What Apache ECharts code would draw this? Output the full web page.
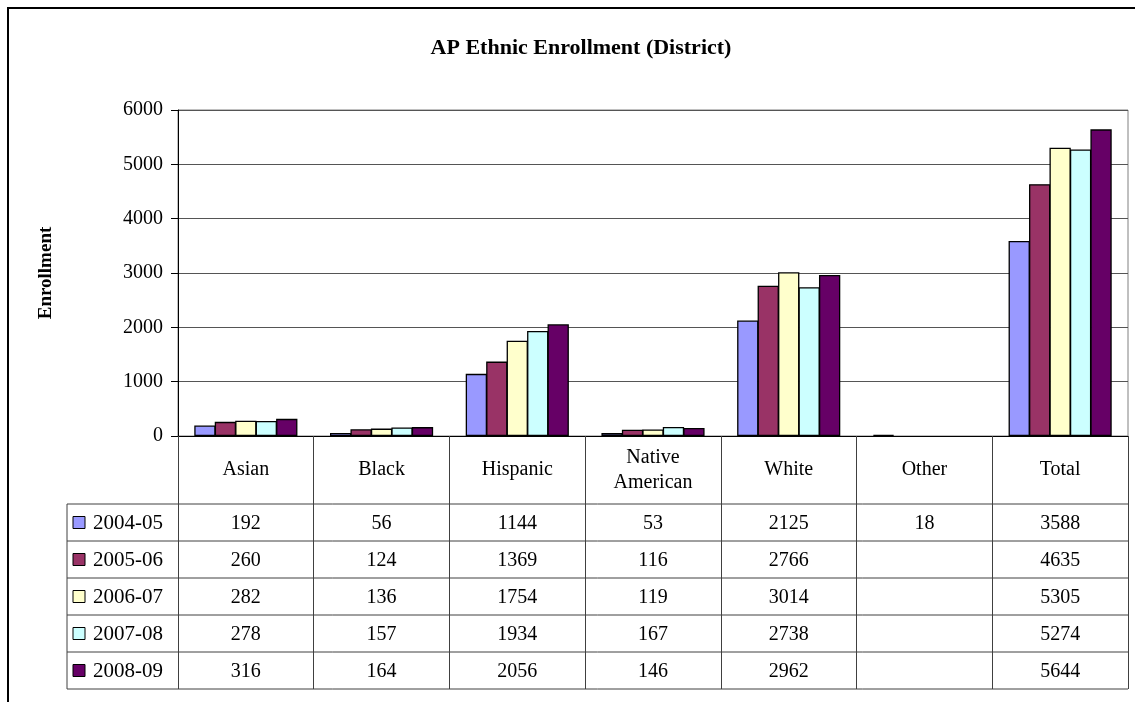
<!DOCTYPE html>
<html>
<head>
<meta charset="utf-8">
<script src="https://cdn.jsdelivr.net/npm/echarts@6/dist/echarts.min.js"></script>
<style>
  html, body { margin: 0; padding: 0; background: #fff; }
  #chart { width: 1135px; height: 702px; }
</style>
</head>
<body>
<div id="chart"></div>
<script>
// data
const categories = ['Asian', 'Black', 'Hispanic', 'Native\nAmerican', 'White', 'Other', 'Total'];
const years = ['2004-05', '2005-06', '2006-07', '2007-08', '2008-09'];
const v2004 = [192, 56, 1144, 53, 2125, 18, 3588];
const v2005 = [260, 124, 1369, 116, 2766, null, 4635];
const v2006 = [282, 136, 1754, 119, 3014, null, 5305];
const v2007 = [278, 157, 1934, 167, 2738, null, 5274];
const v2008 = [316, 164, 2056, 146, 2962, null, 5644];
const yTicks = [0, 1000, 2000, 3000, 4000, 5000, 6000];

const seriesValues = [v2004, v2005, v2006, v2007, v2008];
const colors = ['#9999FF', '#993366', '#FFFFCC', '#CCFFFF', '#660066'];

// layout
const gridLeft = 178, gridRight = 1128, gridTop = 110, gridBottom = 436;
const headerBottom = 504, rowH = 37, legendLeft = 67;
const serif = '"Liberation Serif", "Times New Roman", serif';

const chart = echarts.init(document.getElementById('chart'));

chart.setOption({
  animation: false,
  title: {
    text: 'AP Ethnic Enrollment (District)',
    left: 576, top: 32, textAlign: 'center',
    textStyle: { fontFamily: serif, fontSize: 22, fontWeight: 'bold', color: '#000' }
  },
  grid: {
    left: gridLeft, right: 1135 - gridRight, top: gridTop, bottom: 702 - gridBottom,
    show: true, borderColor: '#808080', borderWidth: 1
  },
  xAxis: {
    type: 'category',
    data: categories,
    axisLine: { lineStyle: { color: '#000', width: 1 } },
    axisTick: { show: true, length: 253, lineStyle: { color: '#404040' } },
    axisLabel: {
      margin: 34, verticalAlign: 'middle', interval: 0,
      fontFamily: serif, fontSize: 20, lineHeight: 25, color: '#000'
    }
  },
  yAxis: {
    type: 'value',
    min: yTicks[0], max: yTicks[yTicks.length - 1], interval: 1000,
    name: 'Enrollment', nameLocation: 'middle', nameRotate: 90, nameGap: 122,
    nameTextStyle: { fontFamily: serif, fontSize: 19, fontWeight: 'bold', color: '#000' },
    axisLine: { show: true, lineStyle: { color: '#000' } },
    axisTick: { show: true, length: 7, lineStyle: { color: '#000' } },
    axisLabel: { margin: 15, fontFamily: serif, fontSize: 20, color: '#000', formatter: v => String(v) },
    splitLine: { lineStyle: { color: '#555', width: 1 } }
  },
  series: years.map((y, i) => ({
    name: y,
    type: 'bar',
    data: seriesValues[i],
    barGap: '-4%',
    barCategoryGap: '24%',
    itemStyle: { color: colors[i], borderColor: '#000', borderWidth: 1.3 }
  }))
});

// data table below the axis, positioned through the axis scale
const colX = categories.map((c, i) => chart.convertToPixel({ xAxisIndex: 0 }, i));
const gfx = [];
const lineStyle = { stroke: '#404040', lineWidth: 1 };

// outer frame
gfx.push({ type: 'rect', shape: { x: 8, y: 8, width: 1140, height: 720 },
  style: { fill: 'none', stroke: '#000', lineWidth: 2 }, silent: true });

// horizontal rules
for (let r = 0; r <= years.length; r++) {
  const y = headerBottom + r * rowH;
  gfx.push({ type: 'line', shape: { x1: legendLeft, y1: y, x2: gridRight, y2: y }, style: lineStyle });
}
gfx.push({ type: 'line', shape: { x1: legendLeft, y1: headerBottom, x2: legendLeft, y2: headerBottom + years.length * rowH }, style: lineStyle });

years.forEach((y, r) => {
  const cy = headerBottom + r * rowH + rowH / 2;
  gfx.push({ type: 'rect', shape: { x: 73, y: cy - 6, width: 12, height: 12 },
    style: { fill: colors[r], stroke: '#000', lineWidth: 1 } });
  gfx.push({ type: 'text', x: 93, y: cy + 1,
    style: { text: y, fontFamily: serif, fontSize: 21, fill: '#000', verticalAlign: 'middle', align: 'left' } });
  seriesValues[r].forEach((v, c) => {
    if (v == null) return;
    gfx.push({ type: 'text', x: colX[c], y: cy + 1,
      style: { text: String(v), fontFamily: serif, fontSize: 20, fill: '#000', verticalAlign: 'middle', align: 'center' } });
  });
});

chart.setOption({ graphic: gfx });
</script>
</body>
</html>
